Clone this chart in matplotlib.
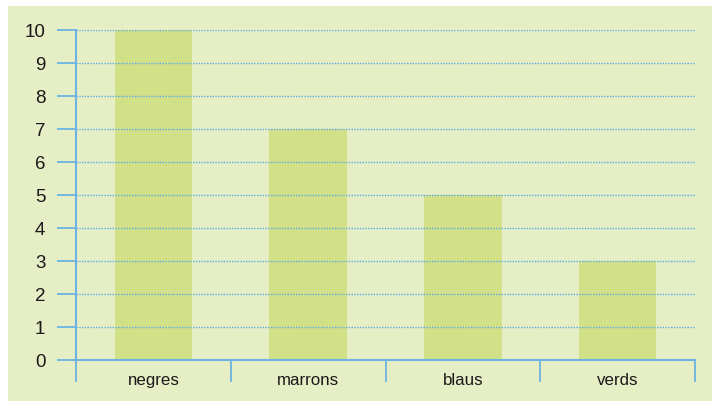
import matplotlib
matplotlib.use("Agg")
import matplotlib.pyplot as plt
from matplotlib.patches import Rectangle

categories = ["negres", "marrons", "blaus", "verds"]
values = [10, 7, 5, 3]
yticks = [0, 1, 2, 3, 4, 5, 6, 7, 8, 9, 10]

W, H = 712, 402
fig = plt.figure(figsize=(W / 100, H / 100), dpi=100, facecolor="white")

panel = "#E5EEC4"
bar_c = "#D2E088"
blue = "#6DB4E2"

fig.patches.append(Rectangle((8 / W, 0), (W - 8) / W, (H - 7) / H,
                             transform=fig.transFigure, facecolor=panel,
                             edgecolor="none", zorder=-10))

ax = fig.add_axes([76 / W, 41 / H, (695 - 76) / W, (361 - 31) / H])
ax.set_zorder(5)
ax.set_facecolor("none")

x = list(range(len(categories)))
ax.bar(x, values, width=0.5, color=bar_c, zorder=1)

ax.set_xlim(-0.5, len(categories) - 0.5)
ax.set_ylim(0, 10)

ax.set_yticks(yticks)
ax.set_yticklabels([str(v) for v in yticks], fontfamily="Liberation Sans",
                   fontsize=13.5, color="#1a1a1a")
ax.tick_params(axis="y", direction="out", length=14, width=1.3, color=blue, pad=8)

ax.set_xticks([i - 0.5 for i in range(len(categories) + 1)])
ax.set_xticklabels([])
ax.set_xticks(x, minor=True)
ax.set_xticklabels(categories, minor=True, fontfamily="Liberation Sans",
                   fontsize=12.2, color="#1a1a1a")
ax.tick_params(axis="x", which="major", direction="out", length=16, width=1.3, color=blue)
ax.tick_params(axis="x", which="minor", length=0, pad=9)

for v in yticks[1:]:
    ax.axhline(v, color="#5AAEE6", linestyle=(0, (1, 1)), linewidth=1.0, zorder=2)

for s in ["top", "right"]:
    ax.spines[s].set_visible(False)
for s in ["left", "bottom"]:
    ax.spines[s].set_color(blue)
    ax.spines[s].set_linewidth(1.5)
    ax.spines[s].set_zorder(3)

fig.savefig("out.png", dpi=100, facecolor="white")
